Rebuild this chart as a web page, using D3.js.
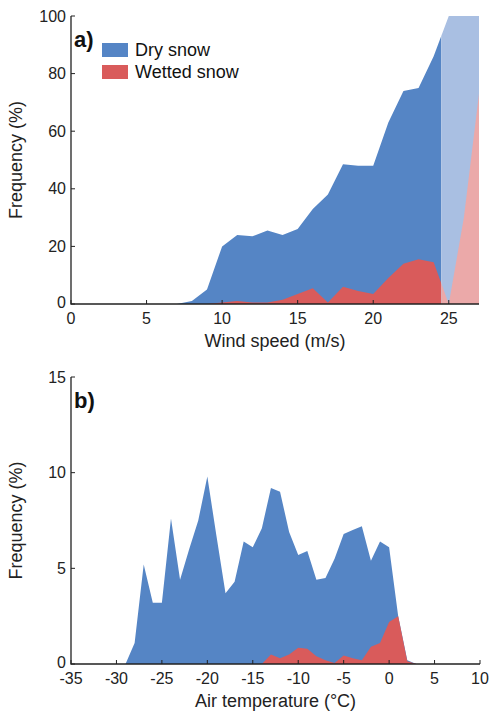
<!DOCTYPE html><html><head><script src="https://cdn.jsdelivr.net/npm/d3@7"></script>
<style>body{margin:0;background:#fff}text{font-family:"Liberation Sans",Arial,sans-serif}</style></head><body>
<svg id="c" width="500" height="727"></svg>
<script>
const windX=[0,1,2,3,4,5,6,7,8,9,10,11,12,13,14,15,16,17,18,19,20,21,22,23,24,25,26,27];
const windDry=[0,0,0,0,0,0,0,0,1,5,20,24,23.5,25.5,24,26,33,38,48.5,48,48,63,74,75,86,100,100,100];
const windWet=[0,0,0,0,0,0,0,0,0,0,0.5,1,0.5,0.5,1.5,3.5,5.5,0.5,6,4.5,3.5,9,14,15.5,14.5,0,30,73];
const tempX=[-35,-30,-29,-28,-27,-26,-25,-24,-23,-22,-21,-20,-19,-18,-17,-16,-15,-14,-13,-12,-11,-10,-9,-8,-7,-6,-5,-4,-3,-2,-1,0,1,2,3,10];
const tempDry=[0,0,0,1.1,5.2,3.2,3.2,7.6,4.4,6,7.5,9.8,6.7,3.7,4.3,6.4,6.1,7.1,9.2,9.0,6.9,5.7,5.9,4.4,4.5,5.5,6.8,7.0,7.2,5.4,6.4,6.1,2.5,0.2,0,0];
const tempWet=[0,0,0,0,0,0,0,0,0,0,0,0,0,0,0,0,0,0,0.5,0.3,0.5,0.85,0.8,0.4,0.2,0.05,0.45,0.3,0.2,0.9,1.1,2.2,2.5,0.15,0,0];
const xTicksA=[0,5,10,15,20,25], yTicksA=[0,20,40,60,80,100];
const xTicksB=[-35,-30,-25,-20,-15,-10,-5,0,5,10], yTicksB=[0,5,10,15];
const cBlue="#5585c5", cRed="#d95b5b", cBlueL="#a9bfe2", cRedL="#eba9a9";
const svg=d3.select("#c");
function axes(g,x,y,xt,yt,xlab,tag){
  const [x0,x1]=x.range(), [y0,y1]=y.range();
  g.append("path").attr("d",`M${x0},${y1}V${y0}H${x1}`).attr("fill","none").attr("stroke","#222").attr("stroke-width",1.3);
  xt.forEach(t=>{g.append("line").attr("x1",x(t)).attr("x2",x(t)).attr("y1",y0).attr("y2",y0-4).attr("stroke","#222");
    g.append("text").attr("x",x(t)).attr("y",y0+20).attr("text-anchor","middle").attr("font-size",16).attr("fill","#222").text(t);});
  yt.forEach(t=>{g.append("line").attr("x1",x0).attr("x2",x0+4).attr("y1",y(t)).attr("y2",y(t)).attr("stroke","#222");
    g.append("text").attr("x",x0-5).attr("y",y(t)+(t===0?4:5.5)).attr("text-anchor","end").attr("font-size",16).attr("fill","#222").text(t);});
  g.append("text").attr("x",(x0+x1)/2).attr("y",y0+43).attr("text-anchor","middle").attr("font-size",18).attr("fill","#222").text(xlab);
  g.append("text").attr("transform",`translate(22,${(y0+y1)/2}) rotate(-90)`).attr("text-anchor","middle").attr("font-size",18).attr("fill","#222").text("Frequency (%)");
  g.append("text").attr("x",x0+3).attr("y",y1+31).attr("font-size",22).attr("font-weight","bold").attr("fill","#111").text(tag);
}
const xa=d3.scaleLinear().domain([0,27]).range([71,479]);
const ya=d3.scaleLinear().domain([0,100]).range([304,16]);
const ga=svg.append("g");
const defs=svg.append("defs");
defs.append("clipPath").attr("id","ca").append("rect").attr("x",xa(0)).attr("y",0).attr("width",xa(24.5)-xa(0)).attr("height",400);
defs.append("clipPath").attr("id","cb").append("rect").attr("x",xa(24.5)).attr("y",0).attr("width",xa(27)-xa(24.5)).attr("height",400);
const areaA=arr=>d3.area().x((d,i)=>xa(windX[i])).y0(ya(0)).y1((d)=>ya(d))(arr);
ga.append("path").attr("d",areaA(windDry)).attr("fill",cBlue).attr("clip-path","url(#ca)");
ga.append("path").attr("d",areaA(windWet)).attr("fill",cRed).attr("clip-path","url(#ca)");
ga.append("path").attr("d",areaA(windDry)).attr("fill",cBlueL).attr("clip-path","url(#cb)");
ga.append("path").attr("d",areaA(windWet)).attr("fill",cRedL).attr("clip-path","url(#cb)");
axes(ga,xa,ya,xTicksA,yTicksA,"Wind speed (m/s)","a)");
[["Dry snow",cBlue],["Wetted snow",cRed]].forEach((d,i)=>{
  ga.append("rect").attr("x",102).attr("y",43+i*22).attr("width",26).attr("height",14).attr("fill",d[1]);
  ga.append("text").attr("x",135).attr("y",56+i*22).attr("font-size",18).attr("fill","#111").text(d[0]);
});
const xb=d3.scaleLinear().domain([-35,10]).range([71,480]);
const yb=d3.scaleLinear().domain([0,15]).range([664,377]);
const gb=svg.append("g");
const areaB=arr=>d3.area().x((d,i)=>xb(tempX[i])).y0(yb(0)).y1(d=>yb(d))(arr);
gb.append("path").attr("d",areaB(tempDry)).attr("fill",cBlue);
gb.append("path").attr("d",areaB(tempWet)).attr("fill",cRed);
axes(gb,xb,yb,xTicksB,yTicksB,"Air temperature (°C)","b)");
</script></body></html>
